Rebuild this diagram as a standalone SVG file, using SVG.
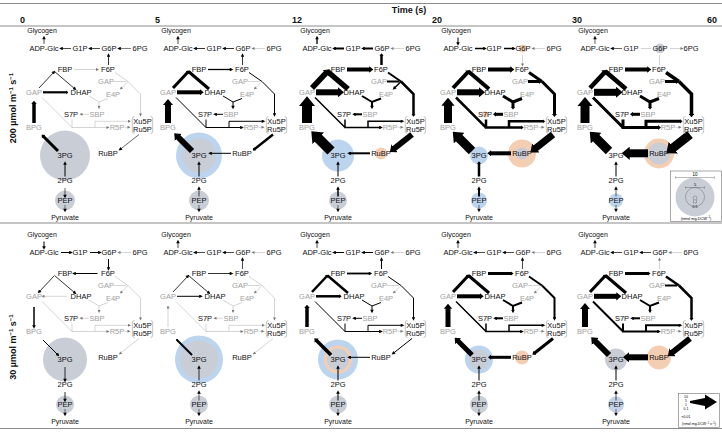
<svg xmlns="http://www.w3.org/2000/svg" width="722" height="432" viewBox="0 0 722 432">
<style>
text{font-family:"Liberation Sans",Arial,Helvetica,sans-serif}
.l{font-size:7.5px;text-anchor:middle;fill:#111}
.s{font-size:7px;text-anchor:middle;fill:#111}
.gl{fill:#a0a0a0}
.ep{fill:none}
use.t,use.tr,use.k,use.kr,use.n{stroke:#000}
use.g,use.gr,use.g0{stroke:#b8b8b8;stroke-width:0.6}
.t{marker-end:url(#mt)}
.tr{marker-start:url(#mt)}
.k{marker-end:url(#mk)}
.kr{marker-start:url(#mk)}
.g{marker-end:url(#mg)}
.gr{marker-start:url(#mg)}
.hd{font-weight:bold;font-size:9px;fill:#111}
.rule{stroke:#8c8c8c;stroke-width:1}
.cg{fill:#c9cdd6}.cb{fill:#bdd4ee}.co{fill:#f4ceb2}
.br{fill:none;stroke:#888;stroke-width:0.5}
.lg{fill:none;stroke:#555;stroke-width:.4}
</style>
<defs>
<marker id="mt" viewBox="0 0 10 10" refX="5" refY="5" markerWidth="4.2" markerHeight="3.6" markerUnits="userSpaceOnUse" orient="auto-start-reverse"><path d="M0,0 L10,5 L0,10 z" fill="#000"/></marker>
<marker id="mg" viewBox="0 0 10 10" refX="5" refY="5" markerWidth="3.6" markerHeight="3" markerUnits="userSpaceOnUse" orient="auto-start-reverse"><path d="M0,0 L10,5 L0,10 z" fill="#777"/></marker>
<marker id="mk" viewBox="0 0 6 10" refX="2" refY="5" markerWidth="1.0" markerHeight="1.7" orient="auto-start-reverse"><path d="M0,0 L6,5 L0,10 z" fill="#000"/></marker>
<path id="E1" class="ep" d="M44,44 V37.5"/>
<path id="E2" class="ep" d="M71,48.5 H61"/>
<path id="E3" class="ep" d="M100,48.5 H90"/>
<path id="E4" class="ep" d="M131,48.5 H119"/>
<path id="E5" class="ep" d="M108.5,65 V55"/>
<path id="E6" class="ep" d="M74,69.5 H97.5"/>
<path id="E7a" class="ep" d="M39,88 L54,72"/>
<path id="E7b" class="ep" d="M54.5,71.5 L75,89"/>
<path id="E8" class="ep" d="M43,92.3 H67"/>
<path id="E9a" class="ep" d="M115,72.5 L128,81.5"/>
<path id="E9b" class="ep" d="M114,81.5 H126"/>
<path id="E9c" class="ep" d="M128,81.5 L121,88.5"/>
<path id="E9d" class="ep" d="M128,81.5 L140.5,94 V115"/>
<path id="E10" class="ep" d="M89,96 L99,102 L108,98.5 M99,102 V107.5"/>
<path id="E11" class="ep" d="M89,114.3 H81"/>
<path id="E12" class="ep" d="M42,97.5 L72.3,127.8 M72,119.5 V127.5 H108"/>
<path id="E12d" class="ep" d="M95,127.5 V121.3 H129.5"/>
<path id="E13" class="ep" d="M124.5,127.3 H129"/>
<path id="E14" class="ep" d="M139,134.5 L120,149.5"/>
<path id="E15" class="ep" d="M97,153.3 H76"/>
<path id="E16" class="ep" d="M58,151 L43,136"/>
<path id="E17" class="ep" d="M34,123 V103"/>
<path id="E18" class="ep" d="M65,176.5 V163"/>
<path id="E19" class="ep" d="M65,196.5 V188"/>
<path id="E20" class="ep" d="M65,205 V210.5"/>
<g id="labels">
<g id="n-glycogen"><text class="s" x="42" y="33">Glycogen</text></g>
<g id="n-adpglc"><text class="l" x="44" y="51">ADP-Glc</text></g>
<g id="n-g1p"><text class="l" x="80" y="51">G1P</text></g>
<g id="n-g6p"><text class="l" x="109" y="51">G6P</text></g>
<g id="n-6pg"><text class="l" x="140" y="51">6PG</text></g>
<g id="n-fbp"><text class="l" x="65" y="72">FBP</text></g>
<g id="n-f6p"><text class="l" x="108" y="72">F6P</text></g>
<g id="n-gap2"><text class="l gl" x="106" y="84">GAP</text></g>
<g id="n-gap"><text class="l gl" x="34" y="95">GAP</text></g>
<g id="n-dhap"><text class="l" x="81" y="95">DHAP</text></g>
<g id="n-e4p"><text class="l gl" x="113" y="97">E4P</text></g>
<g id="n-s7p"><text class="l" x="71" y="117">S7P</text></g>
<g id="n-sbp"><text class="l gl" x="97" y="117">SBP</text></g>
<g id="n-r5p"><text class="l gl" x="117" y="130">R5P</text></g>
<g id="n-xu5p"><text class="l" x="142.5" y="124">Xu5P</text><path class="br" d="M134.5,116.5 Q132.3,116.5 132.3,119 V131 Q132.3,133.5 134.5,133.5 M150.5,116.5 Q152.7,116.5 152.7,119 V131 Q152.7,133.5 150.5,133.5"/></g>
<g id="n-ru5p"><text class="l" x="142.5" y="132">Ru5P</text></g>
<g id="n-bpg"><text class="l gl" x="34" y="130">BPG</text></g>
<g id="n-3pg"><text class="l" x="65" y="158">3PG</text></g>
<g id="n-rubp"><text class="l" x="108" y="156">RuBP</text></g>
<g id="n-2pg"><text class="l" x="65" y="183">2PG</text></g>
<g id="n-pep"><text class="l" x="65" y="203">PEP</text></g>
<g id="n-pyruvate"><text class="s" x="65" y="220">Pyruvate</text></g>
</g>
</defs>
<rect width="722" height="432" fill="#fff"/>
<g id="frame">
<line class="rule" x1="0" y1="3.5" x2="722" y2="3.5"/>
<line class="rule" x1="0" y1="26" x2="722" y2="26"/>
<line class="rule" x1="0" y1="223" x2="722" y2="223"/>
<line class="rule" x1="0" y1="428.5" x2="722" y2="428.5"/>
<text class="hd" x="409" y="13" text-anchor="middle">Time (s)</text>
<text class="hd" x="20" y="23">0</text>
<text class="hd" x="155" y="23">5</text>
<text class="hd" x="292" y="23">12</text>
<text class="hd" x="432" y="23">20</text>
<text class="hd" x="572" y="23">30</text>
<text class="hd" x="707" y="23">60</text>
<text class="hd" transform="translate(16,108) rotate(-90)" text-anchor="middle">200 µmol m<tspan font-size="6" dy="-3.5">−1</tspan><tspan dy="3.5"> s</tspan><tspan font-size="6" dy="-3.5">−1</tspan></text>
<text class="hd" transform="translate(16,347) rotate(-90)" text-anchor="middle">30 µmol m<tspan font-size="6" dy="-3.5">−1</tspan><tspan dy="3.5"> s</tspan><tspan font-size="6" dy="-3.5">−1</tspan></text>
</g>

<g id="p200-0">
<g><circle class="cg" cx="65" cy="155.5" r="25"/><circle class="cg" cx="65" cy="200.5" r="10"/></g>
<g id="c200-0">
<use href="#E1" class="t" stroke-width=".7"/><use href="#E2" class="t" stroke-width=".7"/><use href="#E3" class="t" stroke-width=".7"/><use href="#E4" class="t" stroke-width=".5"/><use href="#E5" class="t" stroke-width=".8"/><use href="#E6" class="g"/><use href="#E7a" class="t" stroke-width=".8"/><use href="#E7b" class="t" stroke-width=".8"/><use href="#E8" class="k" stroke-width="2.2"/><use href="#E9a" class="g0"/><use href="#E9b" class="g0"/><use href="#E9c" class="g"/><use href="#E9d" class="g"/><use href="#E10" class="g"/><use href="#E11" class="g"/><use href="#E12" class="g"/><use href="#E12d" class="g"/><use href="#E13" class="g"/><use href="#E14" class="t" stroke-width=".6"/><use href="#E16" class="k" stroke-width="3"/><use href="#E17" class="k" stroke-width="3.5"/><use href="#E18" class="t" stroke-width="1"/><use href="#E19" class="tr" stroke-width=".6"/><use href="#E20" class="t" stroke-width=".5"/>
</g>
<use href="#labels"/>
</g>

<g id="p200-5" transform="translate(134,0)">
<g><circle class="cb" cx="65" cy="155.5" r="23"/><circle class="cg" cx="65" cy="155.5" r="17"/><circle class="cg" cx="65" cy="200.5" r="10"/></g>
<g id="c200-5">
<use href="#E1" class="t" stroke-width=".7"/><use href="#E2" class="t" stroke-width=".8"/><use href="#E3" class="t" stroke-width=".8"/><use href="#E4" class="g"/><use href="#E5" class="t" stroke-width=".8"/><use href="#E6" class="t" stroke-width="1.3"/><use href="#E7a" class="k" stroke-width="3"/><use href="#E7b" class="n" stroke-width="3"/><use href="#E8" class="k" stroke-width="4"/><use href="#E9a" class="n" stroke-width="1"/><use href="#E9b" class="g0"/><use href="#E9c" class="g"/><use href="#E9d" class="t" stroke-width="1"/><use href="#E10" class="t" stroke-width="1"/><use href="#E11" class="t" stroke-width="1"/><use href="#E12" class="t" stroke-width="1"/><use href="#E12d" class="t" stroke-width="1"/><use href="#E13" class="g"/><use href="#E14" class="k" stroke-width="2.5"/><use href="#E15" class="t" stroke-width="1"/><use href="#E16" class="k" stroke-width="6"/><use href="#E17" class="k" stroke-width="6"/><use href="#E18" class="t" stroke-width="1"/><use href="#E19" class="t" stroke-width=".7"/><use href="#E20" class="t" stroke-width=".5"/>
</g>
<use href="#labels"/>
</g>

<g id="p200-12" transform="translate(273,0)">
<g><circle class="cb" cx="65" cy="155.5" r="16"/><circle class="co" cx="108" cy="153.5" r="6"/><circle class="cg" cx="65" cy="200.5" r="9"/></g>
<g id="c200-12">
<use href="#E1" class="t" stroke-width="1.3"/><use href="#E2" class="t" stroke-width="2"/><use href="#E3" class="t" stroke-width="2"/><use href="#E4" class="g"/><use href="#E5" class="k" stroke-width="2.5"/><use href="#E6" class="k" stroke-width="4"/><use href="#E7a" class="k" stroke-width="5.5"/><use href="#E7b" class="n" stroke-width="5.5"/><use href="#E8" class="k" stroke-width="6"/><use href="#E9a" class="n" stroke-width="2"/><use href="#E9b" class="n" stroke-width="2"/><use href="#E9c" class="t" stroke-width="1.5"/><use href="#E9d" class="k" stroke-width="2.5"/><use href="#E10" class="t" stroke-width="2"/><use href="#E11" class="t" stroke-width="2"/><use href="#E12" class="t" stroke-width="1.5"/><use href="#E12d" class="t" stroke-width="1.5"/><use href="#E13" class="g"/><use href="#E14" class="k" stroke-width="6"/><use href="#E15" class="t" stroke-width="2"/><use href="#E16" class="k" stroke-width="10"/><use href="#E17" class="k" stroke-width="10"/><use href="#E18" class="t" stroke-width="1"/><use href="#E19" class="t" stroke-width="1.5"/><use href="#E20" class="t" stroke-width=".5"/>
</g>
<use href="#labels"/>
</g>

<g id="p200-20" transform="translate(414,0)">
<g><circle class="cb" cx="65" cy="155.5" r="9"/><circle class="co" cx="108" cy="153.5" r="14"/><circle fill="#c5ccd8" cx="108" cy="153.5" r="6"/><circle class="cb" cx="65" cy="200.5" r="8"/><circle class="co" cx="109" cy="48.5" r="4"/><circle class="co" cx="71" cy="114.3" r="3"/></g>
<g id="c200-20">
<use href="#E1" class="tr" stroke-width="1"/><use href="#E2" class="tr" stroke-width="1.5"/><use href="#E3" class="tr" stroke-width="1.5"/><use href="#E4" class="g"/><use href="#E5" class="gr"/><use href="#E6" class="k" stroke-width="4"/><use href="#E7a" class="k" stroke-width="4"/><use href="#E7b" class="n" stroke-width="4"/><use href="#E8" class="k" stroke-width="6"/><use href="#E9a" class="n" stroke-width="3"/><use href="#E9b" class="k" stroke-width="3"/><use href="#E9d" class="k" stroke-width="3"/><use href="#E10" class="k" stroke-width="3"/><use href="#E11" class="k" stroke-width="3"/><use href="#E12" class="k" stroke-width="2.5"/><use href="#E12d" class="k" stroke-width="2.5"/><use href="#E13" class="g"/><use href="#E14" class="k" stroke-width="7"/><use href="#E15" class="k" stroke-width="4"/><use href="#E16" class="k" stroke-width="9"/><use href="#E17" class="k" stroke-width="8"/><use href="#E18" class="k" stroke-width="2.5"/><use href="#E19" class="t" stroke-width="2"/><use href="#E20" class="t" stroke-width=".5"/>
</g>
<use href="#labels"/>
</g>

<g id="p200-30" transform="translate(551,0)">
<g><circle class="cg" cx="109" cy="48.5" r="5"/><circle class="co" cx="108" cy="153.5" r="15"/><circle class="cg" cx="108" cy="153.5" r="11"/><circle class="cb" cx="65" cy="200.5" r="7"/></g>
<g id="c200-30">
<use href="#E1" class="t" stroke-width=".6"/><use href="#E2" class="t" stroke-width=".6"/><use href="#E3" class="g0"/><use href="#E4" class="gr"/><use href="#E5" class="g0"/><use href="#E6" class="k" stroke-width="4"/><use href="#E7a" class="k" stroke-width="4.5"/><use href="#E7b" class="n" stroke-width="4.5"/><use href="#E8" class="k" stroke-width="7"/><use href="#E9a" class="n" stroke-width="3.5"/><use href="#E9b" class="k" stroke-width="3"/><use href="#E9d" class="k" stroke-width="3.5"/><use href="#E10" class="k" stroke-width="3"/><use href="#E11" class="k" stroke-width="3"/><use href="#E12" class="k" stroke-width="3"/><use href="#E12d" class="k" stroke-width="3"/><use href="#E13" class="g"/><use href="#E14" class="k" stroke-width="9"/><use href="#E15" class="k" stroke-width="8"/><use href="#E16" class="k" stroke-width="9"/><use href="#E17" class="k" stroke-width="9"/><use href="#E18" class="t" stroke-width="1"/><use href="#E19" class="t" stroke-width=".6"/><use href="#E20" class="t" stroke-width=".5"/>
</g>
<use href="#labels"/>
</g>

<g id="p30-0" transform="translate(0,204)">
<g><circle class="cg" cx="65" cy="155.5" r="22"/><circle class="cg" cx="65" cy="200.5" r="9"/></g>
<g id="c30-0">
<use href="#E1" class="tr" stroke-width="1"/><use href="#E2" class="tr" stroke-width="1"/><use href="#E3" class="tr" stroke-width="1"/><use href="#E4" class="g"/><use href="#E5" class="tr" stroke-width="1"/><use href="#E6" class="tr" stroke-width="1"/><use href="#E7a" class="tr" stroke-width=".8"/><use href="#E7b" class="t" stroke-width=".8"/><use href="#E8" class="gr"/><use href="#E9a" class="g0"/><use href="#E9b" class="g0"/><use href="#E9c" class="g"/><use href="#E9d" class="g"/><use href="#E10" class="g"/><use href="#E11" class="g"/><use href="#E12" class="g"/><use href="#E12d" class="g"/><use href="#E13" class="g"/><use href="#E14" class="g"/><use href="#E16" class="tr" stroke-width="1"/><use href="#E17" class="tr" stroke-width="1.5"/><use href="#E18" class="tr" stroke-width=".8"/><use href="#E19" class="tr" stroke-width=".8"/><use href="#E20" class="t" stroke-width=".5"/>
</g>
<use href="#labels"/>
</g>

<g id="p30-5" transform="translate(134,204)">
<g><circle class="cb" cx="65" cy="155.5" r="24"/><circle class="cg" cx="65" cy="155.5" r="19"/><circle class="cg" cx="65" cy="200.5" r="9"/></g>
<g id="c30-5">
<use href="#E1" class="t" stroke-width=".7"/><use href="#E2" class="t" stroke-width=".7"/><use href="#E3" class="t" stroke-width=".7"/><use href="#E4" class="g"/><use href="#E5" class="t" stroke-width=".7"/><use href="#E6" class="t" stroke-width=".8"/><use href="#E7a" class="t" stroke-width=".8"/><use href="#E7b" class="t" stroke-width=".8"/><use href="#E8" class="t" stroke-width="1"/><use href="#E9a" class="g0"/><use href="#E9b" class="g0"/><use href="#E9c" class="g"/><use href="#E9d" class="g"/><use href="#E10" class="g"/><use href="#E11" class="g"/><use href="#E12" class="g"/><use href="#E12d" class="g"/><use href="#E13" class="g"/><use href="#E14" class="g"/><use href="#E16" class="k" stroke-width="2"/><use href="#E17" class="g"/><use href="#E18" class="t" stroke-width=".8"/><use href="#E19" class="t" stroke-width=".6"/><use href="#E20" class="t" stroke-width=".5"/>
</g>
<use href="#labels"/>
</g>

<g id="p30-12" transform="translate(273,204)">
<g><circle class="cb" cx="65" cy="155.5" r="20"/><circle class="co" cx="65" cy="155.5" r="14"/><circle class="cg" cx="65" cy="155.5" r="11"/><circle class="cg" cx="65" cy="200.5" r="9"/></g>
<g id="c30-12">
<use href="#E1" class="t" stroke-width=".7"/><use href="#E2" class="t" stroke-width="1"/><use href="#E3" class="t" stroke-width="1"/><use href="#E4" class="g"/><use href="#E5" class="t" stroke-width="1"/><use href="#E6" class="t" stroke-width="1.8"/><use href="#E7a" class="k" stroke-width="2.5"/><use href="#E7b" class="n" stroke-width="2.5"/><use href="#E8" class="k" stroke-width="2.5"/><use href="#E9a" class="n" stroke-width="1"/><use href="#E9b" class="g0"/><use href="#E9c" class="g"/><use href="#E9d" class="t" stroke-width="1"/><use href="#E10" class="t" stroke-width="1"/><use href="#E11" class="t" stroke-width="1"/><use href="#E12" class="t" stroke-width="1"/><use href="#E12d" class="t" stroke-width="1"/><use href="#E13" class="g"/><use href="#E14" class="t" stroke-width="1"/><use href="#E15" class="t" stroke-width="1"/><use href="#E16" class="k" stroke-width="3.5"/><use href="#E17" class="k" stroke-width="3.5"/><use href="#E18" class="t" stroke-width="1"/><use href="#E19" class="t" stroke-width="1"/><use href="#E20" class="t" stroke-width=".5"/>
</g>
<use href="#labels"/>
</g>

<g id="p30-20" transform="translate(414,204)">
<g><circle class="cb" cx="65" cy="155.5" r="14"/><circle class="cg" cx="65" cy="155.5" r="10"/><circle class="co" cx="108" cy="153.5" r="7"/><circle class="cg" cx="65" cy="200.5" r="9"/></g>
<g id="c30-20">
<use href="#E1" class="t" stroke-width=".7"/><use href="#E2" class="t" stroke-width=".7"/><use href="#E3" class="t" stroke-width=".7"/><use href="#E4" class="g"/><use href="#E5" class="t" stroke-width=".7"/><use href="#E6" class="k" stroke-width="3"/><use href="#E7a" class="k" stroke-width="3"/><use href="#E7b" class="n" stroke-width="3"/><use href="#E8" class="k" stroke-width="4"/><use href="#E9a" class="n" stroke-width="2"/><use href="#E9b" class="g0"/><use href="#E9c" class="g"/><use href="#E9d" class="t" stroke-width="2"/><use href="#E10" class="t" stroke-width="2"/><use href="#E11" class="t" stroke-width="2"/><use href="#E12" class="t" stroke-width="1.5"/><use href="#E12d" class="t" stroke-width="1.5"/><use href="#E13" class="g"/><use href="#E14" class="k" stroke-width="3"/><use href="#E15" class="k" stroke-width="3"/><use href="#E16" class="k" stroke-width="5"/><use href="#E17" class="k" stroke-width="5"/><use href="#E18" class="t" stroke-width="1"/><use href="#E19" class="t" stroke-width="1"/><use href="#E20" class="t" stroke-width=".5"/>
</g>
<use href="#labels"/>
</g>

<g id="p30-30" transform="translate(551,204)">
<g><circle class="cg" cx="65" cy="155.5" r="11"/><circle class="co" cx="108" cy="153.5" r="12"/><circle fill="#c5d3e6" cx="65" cy="200.5" r="8"/></g>
<g id="c30-30">
<use href="#E1" class="t" stroke-width=".7"/><use href="#E2" class="t" stroke-width=".7"/><use href="#E3" class="t" stroke-width=".7"/><use href="#E4" class="g"/><use href="#E5" class="g"/><use href="#E6" class="k" stroke-width="3"/><use href="#E7a" class="k" stroke-width="3"/><use href="#E7b" class="n" stroke-width="3"/><use href="#E8" class="k" stroke-width="5"/><use href="#E9a" class="n" stroke-width="2.5"/><use href="#E9b" class="n" stroke-width="2"/><use href="#E9d" class="k" stroke-width="2.5"/><use href="#E10" class="t" stroke-width="2"/><use href="#E11" class="t" stroke-width="2"/><use href="#E12" class="t" stroke-width="2"/><use href="#E12d" class="t" stroke-width="2"/><use href="#E13" class="g"/><use href="#E14" class="k" stroke-width="6"/><use href="#E15" class="k" stroke-width="6"/><use href="#E16" class="k" stroke-width="6"/><use href="#E17" class="k" stroke-width="6"/><use href="#E18" class="t" stroke-width="1"/><use href="#E19" class="t" stroke-width=".7"/><use href="#E20" class="t" stroke-width=".5"/>
</g>
<use href="#labels"/>
</g>

<g id="legend-conc">
<rect x="670.5" y="171" width="51" height="50.5" fill="#fff" stroke="#555" stroke-width=".5"/>
<circle class="cg" cx="695" cy="197" r="19.5"/>
<path class="lg" d="M675.5,177.5 H714.5 M675.5,176.3 V178.7 M714.5,176.3 V178.7"/>
<circle class="lg" cx="695" cy="197" r="9.5"/>
<path class="lg" d="M685.5,187.5 H704.5 M685.5,186.3 V188.7 M704.5,186.3 V188.7"/>
<circle class="lg" cx="695" cy="198" r="2"/>
<path class="lg" d="M693.5,200 V203 H696.5 V200"/>
<text x="695" y="176" font-size="4.5" text-anchor="middle">10</text>
<text x="695" y="186" font-size="4" text-anchor="middle">5</text>
<text x="695" y="208" font-size="3.5" text-anchor="middle">0.5</text>
<text x="696" y="219.5" font-size="3.8" text-anchor="middle">(nmol mg-DCW<tspan font-size="2.8" dy="-1.5">−1</tspan><tspan dy="1.5">)</tspan></text>
</g>

<g id="legend-flux">
<rect x="678.5" y="393.5" width="41" height="34" fill="#fff" stroke="#555" stroke-width=".5"/>
<path d="M690,401 L705,398 L705,394.5 L717,402 L705,409.5 L705,406 L690,403 z" fill="#000"/>
<text x="686" y="398" font-size="3.5" text-anchor="middle">10</text>
<text x="686" y="402" font-size="3.5" text-anchor="middle">5</text>
<text x="686" y="406" font-size="3.5" text-anchor="middle">1</text>
<text x="686" y="410" font-size="3.5" text-anchor="middle">0.1</text>
<text x="686" y="418" font-size="3.5" text-anchor="middle">&lt;0.01</text>
<text x="699" y="425" font-size="3.5" text-anchor="middle">(nmol mg-DCW<tspan font-size="2.6" dy="-1.4">−1</tspan><tspan dy="1.4"> s</tspan><tspan font-size="2.6" dy="-1.4">−1</tspan><tspan dy="1.4">)</tspan></text>
</g>
</svg>
